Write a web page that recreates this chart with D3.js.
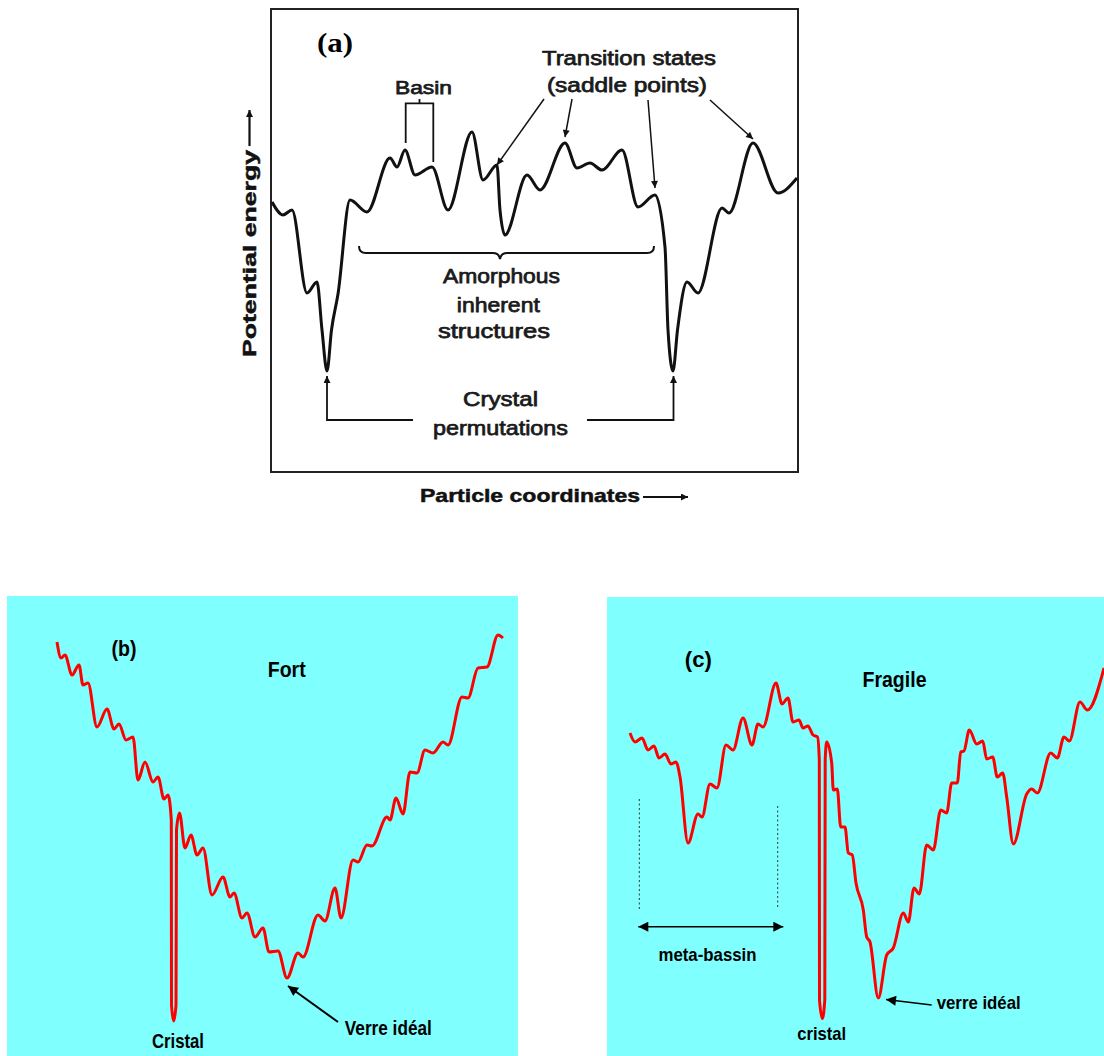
<!DOCTYPE html>
<html><head><meta charset="utf-8">
<script src="https://cdn.jsdelivr.net/npm/d3@7"></script>
<style>body{margin:0;background:#fff} svg{display:block}</style>
</head><body>
<svg id="chart" width="1104" height="1056"></svg>
<script>
// ---- Panel (a): generic potential energy landscape ----
const aCoord  = [1,12,21,36,46,51,56,60.5,67,79,96,119,126,134,144,161,177,201,212,226,229,234,256,269,294,306,319,331,351,367,384,394,397,402,406.5,416,427,451,458,482,507,526];
const aEnergy = [270,257,262,179,190,142,101,142,178,272,260,314,305,322,297,305,262,340,292,307,262,237,297,282,329,304,309,302,322,265,277,225,142,101,142,190,179,264,259,329,279,294];
// ---- Panel (b): strong liquid ("Fort") ----
const bCoord  = [50,54,58,65,72,76,81,90,100,107,112,119,126,131,138,146,151,157,161,164.3,164.5,166.7,169,169.5,172.5,178,184,190,196,205,216,223,227,235,240,248,256,262,271,280,291,296,311,318,328,334,346,351,360,365,380,383,389,396,403,410,418,426,436,441,455,461,471,480,491,496];
const bEnergy = [414,398,401,381,391,371,373,329,347,327,332,316,319,276,294,274,279,257,261,236,51,35,51,226,243,208,221,201,208,161,179,159,163,138,143,119,128,104,105,78,103,99,141,135,168,138,196,194,211,210,239,236,258,242,284,283,306,303,314,311,359,358,388,389,421,418];
// ---- Panel (c): fragile liquid ("Fragile") ----
const cCoord  = [23,28,35,41,47,52,58,64,69,73,81,91,95,103,110,119,126,136,145,151,156,169,175,181,186,192,196,201,206,210.5,212.3,212.5,215.3,217.8,218.2,219.7,224.7,226.3,230.3,233.7,238,241.3,245.3,249,256.3,259.7,263,271.3,279.7,286.3,296.3,301.3,307,312.3,319.7,326.3,333.7,339.7,344.7,350.3,353.7,357,362.3,369.7,375.7,379.7,385.7,390.3,395.7,399.7,406.3,419.7,424.7,430.3,443.7,450.3,457,462.3,473,480.3,497];
const cEnergy = [323,314,318,306,310,298,302,292,294,279,213,242,239,272,268,311,306,338,311,332,329,373,352,358,334,336,328,330,321,319,296,56,37.5,56,296,314,293,266,267,229,229,203,201,173,146,119,114,58,101,108,143,134,168,162,211,206,246,243,273,273,304,305,326,312,315,297,299,279,283,259,212,262,267,263,303,298,319,315,354,346,388];

const svg = d3.select("#chart");
const defs = svg.append("defs");
function marker(id, w, h, color){
  defs.append("marker").attr("id", id).attr("viewBox","0 0 10 10")
    .attr("refX",10).attr("refY",5).attr("markerUnits","userSpaceOnUse")
    .attr("markerWidth",w).attr("markerHeight",h).attr("orient","auto-start-reverse")
    .append("path").attr("d","M0,0 L10,5 L0,10 z").attr("fill",color);
}
marker("arrA", 9, 7, "#111");
marker("arrB", 14, 10, "#000");

function label(g, s, x, y, o){
  const t = g.append("text").attr("x",x).attr("y",y).text(s)
    .attr("text-anchor", o.anchor || "middle")
    .attr("font-family", o.family || "'Liberation Sans', Arial, sans-serif")
    .attr("font-size", o.size).attr("font-weight", o.weight || "bold")
    .attr("fill", o.fill || "#000");
  if (o.len) t.attr("textLength", o.len).attr("lengthAdjust","spacingAndGlyphs");
  if (o.rotate) t.attr("transform", `rotate(${o.rotate},${x},${y})`);
  if (o.stroke) t.attr("stroke", o.fill || "#000").attr("stroke-width", o.stroke);
  return t;
}

// ================= Panel (a) =================
const gA = svg.append("g");
const xa = d3.scaleLinear().domain([0,527]).range([271,798]);
const ya = d3.scaleLinear().domain([0,463]).range([472,9]);
gA.append("rect").attr("x",xa(0)).attr("y",ya(463)).attr("width",xa(527)-xa(0)).attr("height",ya(0)-ya(463))
  .attr("fill","#fff").attr("stroke","#222").attr("stroke-width",2);
const lineA = d3.line().x(d=>xa(d[0])).y(d=>ya(d[1])).curve(d3.curveMonotoneX);
gA.append("path").datum(d3.zip(aCoord,aEnergy)).attr("d",lineA)
  .attr("fill","none").attr("stroke","#111").attr("stroke-width",3).attr("stroke-linejoin","round");

const regA = {size:20, weight:"normal", fill:"#1a1a1a", stroke:0.75};
label(gA,"(a)",335,51.7,{size:27,family:"'Liberation Serif','Times New Roman',serif",len:36});
label(gA,"Basin",423.5,94,{...regA,size:19,len:57});
gA.append("path").attr("d","M405.7,143 L405.7,103.3 L433.3,103.3 L433.3,162 M419.5,103.3 L419.5,99")
  .attr("fill","none").attr("stroke","#111").attr("stroke-width",1.8);
label(gA,"Transition states",629,65,{...regA,len:174});
label(gA,"(saddle points)",627,91.7,{...regA,len:160});
// arrows to saddle points
const arrA = [[544,99,226,307],[572,99,294,335],[648,100,384,284],[710,100,482,333]];
arrA.forEach(a=>{
  gA.append("line").attr("x1",a[0]).attr("y1",a[1]).attr("x2",xa(a[2])).attr("y2",ya(a[3]))
    .attr("stroke","#111").attr("stroke-width",1.5).attr("marker-end","url(#arrA)");
});
// amorphous brace
gA.append("path").attr("d","M359,246 Q359,253 366,253 L493,253 Q499,253 500,259 Q501,253 507,253 L647,253 Q654,253 654,246")
  .attr("fill","none").attr("stroke","#111").attr("stroke-width",2);
label(gA,"Amorphous",501.5,283.3,{...regA,size:21,len:117});
label(gA,"inherent",498.3,311.7,{...regA,size:21,len:83});
label(gA,"structures",494,338.3,{...regA,size:21,len:112});
label(gA,"Crystal",500.5,406,{...regA,size:21,len:75});
label(gA,"permutations",500.5,435,{...regA,size:21,len:135});
// crystal arrows
gA.append("path").attr("d",`M413,420 L${xa(56)},420 L${xa(56)},${ya(96)}`)
  .attr("fill","none").attr("stroke","#111").attr("stroke-width",1.8).attr("marker-end","url(#arrA)");
gA.append("path").attr("d",`M587,420 L${xa(402.5)},420 L${xa(402.5)},${ya(96)}`)
  .attr("fill","none").attr("stroke","#111").attr("stroke-width",1.8).attr("marker-end","url(#arrA)");
// axis labels
label(gA,"Particle coordinates",530,501.7,{size:19,len:220,fill:"#111",stroke:0.5});
gA.append("line").attr("x1",643).attr("y1",497).attr("x2",688).attr("y2",497)
  .attr("stroke","#111").attr("stroke-width",2.2).attr("marker-end","url(#arrA)");
label(gA,"Potential energy",256,253.5,{size:19,len:207,rotate:-90,fill:"#111",stroke:0.5});
gA.append("line").attr("x1",249.5).attr("y1",146).attr("x2",249.5).attr("y2",110)
  .attr("stroke","#111").attr("stroke-width",2.2).attr("marker-end","url(#arrA)");

// ================= Panel (b) =================
const gB = svg.append("g");
const xb = d3.scaleLinear().domain([0,511]).range([7,518]);
const yb = d3.scaleLinear().domain([0,460]).range([1056,596]);
gB.append("rect").attr("x",xb(0)).attr("y",yb(460)).attr("width",xb(511)-xb(0)).attr("height",yb(0)-yb(460)).attr("fill","#80ffff");
const lineB = d3.line().x(d=>xb(d[0])).y(d=>yb(d[1])).curve(d3.curveMonotoneX);
gB.append("path").datum(d3.zip(bCoord,bEnergy)).attr("d",lineB)
  .attr("fill","none").attr("stroke","#ff0000").attr("stroke-width",3).attr("stroke-linejoin","round");
label(gB,"(b)",124,656,{size:22,len:25});
label(gB,"Fort",286.7,677.3,{size:22,len:38});
label(gB,"Cristal",178,1048,{size:21,len:52});
label(gB,"Verre idéal",388.3,1035,{size:21,len:87});
gB.append("line").attr("x1",338).attr("y1",1022).attr("x2",xb(281)).attr("y2",yb(70))
  .attr("stroke","#000").attr("stroke-width",2).attr("marker-end","url(#arrB)");

// ================= Panel (c) =================
const gC = svg.append("g");
const xc = d3.scaleLinear().domain([0,497]).range([607,1104]);
const yc = d3.scaleLinear().domain([0,459]).range([1056,597]);
gC.append("rect").attr("x",xc(0)).attr("y",yc(459)).attr("width",xc(497)-xc(0)).attr("height",yc(0)-yc(459)).attr("fill","#80ffff");
const lineC = d3.line().x(d=>xc(d[0])).y(d=>yc(d[1])).curve(d3.curveMonotoneX);
gC.append("path").datum(d3.zip(cCoord,cEnergy)).attr("d",lineC)
  .attr("fill","none").attr("stroke","#ff0000").attr("stroke-width",3).attr("stroke-linejoin","round");
label(gC,"(c)",698.3,667,{size:22,len:27});
label(gC,"Fragile",894.5,686.7,{size:22,len:64});
label(gC,"meta-bassin",707.5,960.7,{size:19,len:98});
label(gC,"cristal",821.7,1040,{size:19,len:49});
label(gC,"verre idéal",978.7,1009.3,{size:19,len:84});
// meta-basin markers
[[639.3,799,911],[777.7,806,907]].forEach(d=>{
  gC.append("line").attr("x1",d[0]).attr("x2",d[0]).attr("y1",d[1]).attr("y2",d[2])
    .attr("stroke","#333").attr("stroke-width",1).attr("stroke-dasharray","2,2.5");
});
gC.append("line").attr("x1",638.3).attr("x2",783.3).attr("y1",926.7).attr("y2",926.7)
  .attr("stroke","#000").attr("stroke-width",1.6)
  .attr("marker-start","url(#arrB)").attr("marker-end","url(#arrB)");
gC.append("line").attr("x1",931.7).attr("y1",1005).attr("x2",xc(279)).attr("y2",yc(56.5))
  .attr("stroke","#000").attr("stroke-width",1.6).attr("marker-end","url(#arrB)");
</script>
</body></html>
